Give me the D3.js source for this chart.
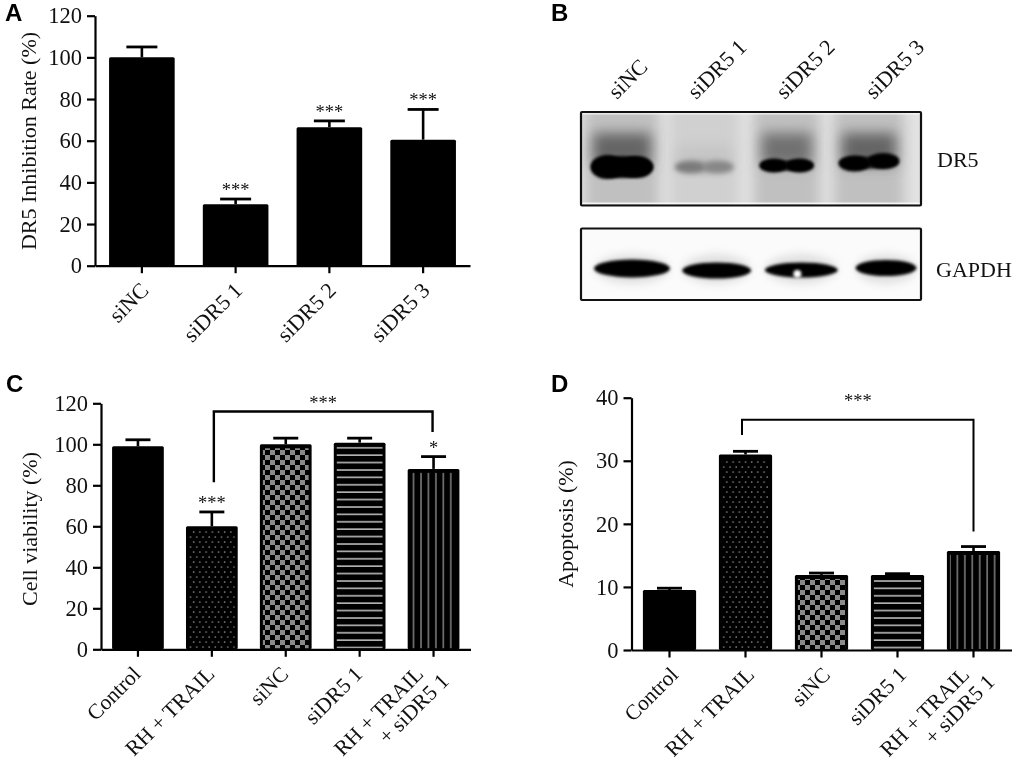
<!DOCTYPE html>
<html><head><meta charset="utf-8">
<script src="https://cdn.jsdelivr.net/npm/d3@7"></script>
<style>
html,body{margin:0;padding:0;background:#fff}
svg{display:block;filter:blur(.35px)}
text{font-family:"Liberation Serif","Times New Roman",serif;fill:#111}
.letter{font-family:"Liberation Sans",Arial,sans-serif;font-weight:700;font-size:24px;fill:#000}
</style></head><body>
<svg id="chart" width="1020" height="765"></svg>
<script>
// ---- Panel A
const categoriesA = ["siNC","siDR5 1","siDR5 2","siDR5 3"];
const valuesA = [100,29.5,66.5,60.5];
const errorTopsA = [105,32,69.5,75];
const marksA = ["","***","***","***"];
const fillsA = ["solid","solid","solid","solid"];
const ticksA = [0,20,40,60,80,100,120];
// ---- Panel C
const categoriesC = ["Control","RH + TRAIL","siNC","siDR5 1","RH + TRAIL\n+ siDR5 1"];
const valuesC = [99,60,100,100.8,88];
const errorTopsC = [102.2,67,103,103,94];
const marksC = ["","***","","","*"];
const fillsC = ["solid","dots","checker","hstripes","vstripes"];
const ticksC = [0,20,40,60,80,100,120];
const bracketC = [81.5,116,106];
// ---- Panel D
const categoriesD = categoriesC;
const valuesD = [9.5,31,11.9,11.9,15.7];
const errorTopsD = [9.8,31.5,12.2,12.1,16.4];
const marksD = ["","","","",""];
const fillsD = fillsC;
const ticksD = [0,10,20,30,40];
const bracketD = [34.1,36.5,18.8];
// ---- Panel B (blot), relative intensities
const lanes = ["siNC","siDR5 1","siDR5 2","siDR5 3"];
const dr5LeftBand = [1,0.46,1,1];
const dr5MidBand = [1,0.3,0.8,0.85];
const dr5RightBand = [1,0.4,1,1];
const dr5Smear = [0.55,0.13,0.5,0.55];
const gapdhBand = [1,1,1,1];
const gapdhWidth = [74,67,71,59];

const svg = d3.select("#chart");
const defs = svg.append("defs");

function pat(id,w,h,draw){
  const p = defs.append("pattern").attr("id",id).attr("patternUnits","userSpaceOnUse").attr("width",w).attr("height",h);
  p.append("rect").attr("width",w).attr("height",h).attr("fill","#000");
  draw(p);
}
pat("dots",6.2,10,p=>{
  p.append("circle").attr("cx",1.5).attr("cy",2).attr("r",.85).attr("fill","#888");
  p.append("circle").attr("cx",4.6).attr("cy",7).attr("r",.85).attr("fill","#888");
});
pat("checker",10,10,p=>{
  p.append("rect").attr("x",0).attr("y",0).attr("width",5).attr("height",5).attr("fill","#8a8a8a");
  p.append("rect").attr("x",5).attr("y",5).attr("width",5).attr("height",5).attr("fill","#8a8a8a");
});
pat("hstripes",10,7.4,p=>{
  p.append("rect").attr("y",3).attr("width",10).attr("height",1.6).attr("fill","#b8b8b8");
});
pat("vstripes",7.45,10,p=>{
  p.append("rect").attr("x",3).attr("width",1.6).attr("height",10).attr("fill","#777");
});
const fb = (id,s)=>defs.append("filter").attr("id",id).attr("x","-40%").attr("y","-80%").attr("width","180%").attr("height","260%")
  .append("feGaussianBlur").attr("stdDeviation",s);
fb("b1",1.6); fb("b2",2.6); fb("b4",4.5); fb("b6",6.5);

function barPanel(o){
  const x = d3.scaleBand().domain(o.categories.map((c,i)=>i)).range(o.xr).paddingInner(.3).paddingOuter(.15);
  const y = d3.scaleLinear().domain(o.ydomain).range(o.yr);
  const g = svg.append("g");
  const inset = 3;
  const mid = i=>x(i)+x.bandwidth()/2;
  const rows = o.values.map((v,i)=>({v,i,e:o.errs[i],f:o.fills[i]}));
  const bars = g.selectAll("g.bar").data(rows).join("g").attr("class","bar");
  // error bars
  bars.append("line").attr("x1",d=>mid(d.i)).attr("x2",d=>mid(d.i))
    .attr("y1",d=>y(d.v)).attr("y2",d=>y(d.e)).attr("stroke","#000").attr("stroke-width",2.6);
  bars.append("line").attr("x1",d=>mid(d.i)-o.cap/2).attr("x2",d=>mid(d.i)+o.cap/2)
    .attr("y1",d=>y(d.e)).attr("y2",d=>y(d.e)).attr("stroke","#000").attr("stroke-width",2.8);
  bars.append("rect").attr("x",d=>x(d.i)).attr("width",x.bandwidth()).attr("y",d=>y(d.v))
    .attr("height",d=>y(0)-y(d.v)).attr("rx",1.5).attr("fill","#000");
  bars.filter(d=>d.f!=="solid").append("rect")
    .attr("x",d=>x(d.i)+inset).attr("width",x.bandwidth()-2*inset)
    .attr("y",d=>y(d.v)+inset+1).attr("height",d=>y(0)-y(d.v)-inset-2)
    .attr("fill",d=>`url(#${d.f})`);
  // significance marks
  g.selectAll("text.mark").data(o.marks).join("text").attr("class","mark")
    .attr("x",(d,i)=>mid(i)).attr("y",(d,i)=>y(o.errs[i])-3)
    .attr("text-anchor","middle").attr("font-size",18.5).text(d=>d);
  // axes
  const ax = d3.axisLeft(y).tickValues(o.ticks).tickSize(8).tickSizeOuter(0).tickPadding(5);
  const ay = g.append("g").attr("transform",`translate(${o.xr[0]},0)`).call(ax);
  const bx = d3.axisBottom(x).tickSize(7.5).tickSizeOuter(0).tickFormat(()=>"");
  const by = g.append("g").attr("transform",`translate(0,${o.yr[0]})`).call(bx);
  [ay,by].forEach(a=>{a.selectAll("path,line").attr("stroke","#000").attr("stroke-width",2.2);});
  ay.attr("font-family",null).attr("font-size",null);
  ay.selectAll("text").attr("font-size",22.5).attr("fill","#111");
  // category labels
  const lab = g.selectAll("text.cat").data(o.categories).join("text").attr("class","cat")
    .attr("font-size",o.catSize).attr("text-anchor","end")
    .attr("transform",(d,i)=>`translate(${mid(i)+o.lab[0]-(d.includes("\n")?13:0)},${o.yr[0]+o.lab[1]}) rotate(-45)`);
  lab.selectAll("tspan").data(d=>d.split("\n")).join("tspan")
    .attr("x",(d,i)=>i?13:0).attr("y",(d,i)=>i*23).text(d=>d);
  // y title
  g.append("text").attr("transform",`translate(${o.title[0]},${o.title[1]}) rotate(-90)`)
    .attr("text-anchor","middle").attr("font-size",22).text(o.ylabel);
  // bracket
  if(o.bracket){
    const [a,b] = o.bracketIdx;
    const xa = mid(a)+o.bracketDx, xb = mid(b)+o.bracketDx2;
    const path = d3.path();
    path.moveTo(xa,y(o.bracket[0])); path.lineTo(xa,y(o.bracket[1])); path.lineTo(xb,y(o.bracket[1])); path.lineTo(xb,y(o.bracket[2]));
    g.append("path").attr("d",path.toString()).attr("fill","none").attr("stroke","#000").attr("stroke-width",o.bracketW);
    g.append("text").attr("x",(xa+xb)/2).attr("y",y(o.bracket[1])-o.bracketGap).attr("text-anchor","middle").attr("font-size",18.5).text("***");
  }
}

barPanel({categories:categoriesA,values:valuesA,errs:errorTopsA,marks:marksA,fills:fillsA,ticks:ticksA,catSize:22,
  xr:[95,470],yr:[265.7,15.7],ydomain:[0,120],cap:31,ylabel:"DR5 Inhibition Rate (%)",title:[36,141],lab:[8,26]});
barPanel({categories:categoriesC,values:valuesC,errs:errorTopsC,marks:marksC,fills:fillsC,ticks:ticksC,catSize:21.5,
  xr:[101,470.5],yr:[649.3,403.3],ydomain:[0,120],cap:25,ylabel:"Cell viability (%)",title:[37,529],lab:[4,26],
  bracket:bracketC,bracketIdx:[1,4],bracketDx:2,bracketDx2:-1,bracketGap:3,bracketW:2.4});
barPanel({categories:categoriesD,values:valuesD,errs:errorTopsD,marks:marksD,fills:fillsD,ticks:ticksD,catSize:21.5,
  xr:[631.5,1011.5],yr:[650,397.7],ydomain:[0,40],cap:25,ylabel:"Apoptosis (%)",title:[573,524],lab:[10,26],
  bracket:bracketD,bracketIdx:[1,4],bracketDx:-3.5,bracketDx2:0,bracketGap:13,bracketW:2});

// ---- Panel B
const frameX=[581,921], frame1=[112,205.5], frame2=[228.5,300];
defs.append("clipPath").attr("id","c1").append("rect").attr("x",frameX[0]).attr("y",frame1[0]).attr("width",frameX[1]-frameX[0]).attr("height",frame1[1]-frame1[0]);
defs.append("clipPath").attr("id","c2").append("rect").attr("x",frameX[0]).attr("y",frame2[0]).attr("width",frameX[1]-frameX[0]).attr("height",frame2[1]-frame2[0]);
const lx = d3.scalePoint().domain(lanes).range([622,869]);
const gx = d3.scalePoint().domain(lanes).range([632,886]);
const labx = d3.scalePoint().domain(lanes).range([617,873]);
const labNudge = [0,-6,-3,1];
const grey = d3.scaleLinear().domain([0,1]).range([225,0]);
const col = v=>{const c=Math.round(grey(v));return `rgb(${c},${c},${c})`};
const blot = svg.append("g");
const upper = blot.append("g").attr("clip-path","url(#c1)");
upper.append("rect").attr("x",frameX[0]).attr("y",frame1[0]).attr("width",340).attr("height",94).attr("fill","#e2e2e2");
const laneW=[74,70,66,70];
// lane tint
upper.selectAll("rect.lane").data(lanes).join("rect").attr("class","lane")
  .attr("x",(d,i)=>lx(d)-laneW[i]/2).attr("width",(d,i)=>laneW[i]).attr("y",frame1[0]-30).attr("height",155)
  .attr("fill",(d,i)=>i==1?"#d0d0d0":"#c0c0c0").attr("filter","url(#b6)");
// smear above the band
upper.selectAll("rect.smear").data(dr5Smear).join("rect").attr("class","smear")
  .attr("x",(d,i)=>lx(lanes[i])-laneW[i]/2+8).attr("width",(d,i)=>laneW[i]-16).attr("y",(d,i)=>i==1?146:133).attr("height",(d,i)=>i==1?18:32)
  .attr("fill",d=>col(d)).attr("filter","url(#b6)");
// band: left + middle + right blobs
const bandY=[167,167,165.5,162.5], bandH=[11,6,7,8], bandW=[30,28,26,29];
upper.selectAll("ellipse.mid").data(dr5MidBand).join("ellipse").attr("class","mid")
  .attr("cx",(d,i)=>lx(lanes[i])).attr("cy",(d,i)=>bandY[i]).attr("rx",(d,i)=>bandW[i]).attr("ry",(d,i)=>i==0?bandH[i]:bandH[i]*.75)
  .attr("fill",d=>col(d)).attr("filter",(d,i)=>i==1?"url(#b4)":"url(#b1)");
upper.selectAll("ellipse.l").data(dr5LeftBand).join("ellipse").attr("class","l")
  .attr("cx",(d,i)=>lx(lanes[i])-bandW[i]*.5).attr("cy",(d,i)=>bandY[i]+(i==3?1:0)).attr("rx",(d,i)=>bandW[i]*.55).attr("ry",(d,i)=>bandH[i]+(i==0?1:0))
  .attr("fill",d=>col(d)).attr("filter",(d,i)=>i==1?"url(#b2)":"url(#b1)");
upper.selectAll("ellipse.r").data(dr5RightBand).join("ellipse").attr("class","r")
  .attr("cx",(d,i)=>lx(lanes[i])+bandW[i]*.5).attr("cy",(d,i)=>bandY[i]-(i==3?1.5:0)).attr("rx",(d,i)=>bandW[i]*.55).attr("ry",(d,i)=>bandH[i])
  .attr("fill",d=>col(d)).attr("filter",(d,i)=>i==1?"url(#b2)":"url(#b1)");
upper.append("rect").attr("x",frameX[0]).attr("y",frame1[0]+1).attr("width",340).attr("height",1.6).attr("fill","#fff").attr("opacity",.6);
upper.append("rect").attr("x",frameX[0]).attr("y",frame1[1]-3).attr("width",340).attr("height",1.6).attr("fill","#fff").attr("opacity",.8);

const lower = blot.append("g").attr("clip-path","url(#c2)");
lower.append("rect").attr("x",frameX[0]).attr("y",frame2[0]).attr("width",340).attr("height",72).attr("fill","#fbfbfb");
lower.selectAll("ellipse.halo").data(gapdhWidth).join("ellipse").attr("class","halo")
  .attr("cx",(d,i)=>gx(lanes[i])).attr("cy",269).attr("rx",d=>d/2).attr("ry",15).attr("fill","#e0e0e0").attr("filter","url(#b4)");
lower.selectAll("ellipse.g").data(gapdhBand).join("ellipse").attr("class","g")
  .attr("cx",(d,i)=>gx(lanes[i])).attr("rx",(d,i)=>gapdhWidth[i]/2+1)
  .attr("cy",(d,i)=>[268.5,270.5,270,268][i]).attr("ry",(d,i)=>[9,8,7.5,8][i])
  .attr("fill",d=>col(d)).attr("filter","url(#b1)");
lower.append("circle").attr("cx",gx(lanes[2])-4).attr("cy",274).attr("r",4).attr("fill","#fff").attr("filter","url(#b1)");

[frame1,frame2].forEach(f=>blot.append("rect").attr("x",frameX[0]).attr("y",f[0]).attr("width",340).attr("height",f[1]-f[0])
  .attr("rx",1).attr("fill","none").attr("stroke","#111").attr("stroke-width",2.2));
blot.selectAll("text.lane").data(lanes).join("text").attr("class","lane").attr("font-size",22)
  .attr("transform",(d,i)=>`translate(${labx(d)+labNudge[i]},100) rotate(-45)`).text(d=>d);
blot.append("text").attr("x",937).attr("y",167).attr("font-size",22).text("DR5");
blot.append("text").attr("x",936).attr("y",277).attr("font-size",22).text("GAPDH");

// ---- Panel letters
const letters=["A","B","C","D"], letterX=[5,551,6,551], letterY=[21,21,392,392];
svg.selectAll("text.letter").data(letters).join("text").attr("class","letter")
  .attr("x",(d,i)=>letterX[i]).attr("y",(d,i)=>letterY[i]).text(d=>d);
</script>
</body></html>
